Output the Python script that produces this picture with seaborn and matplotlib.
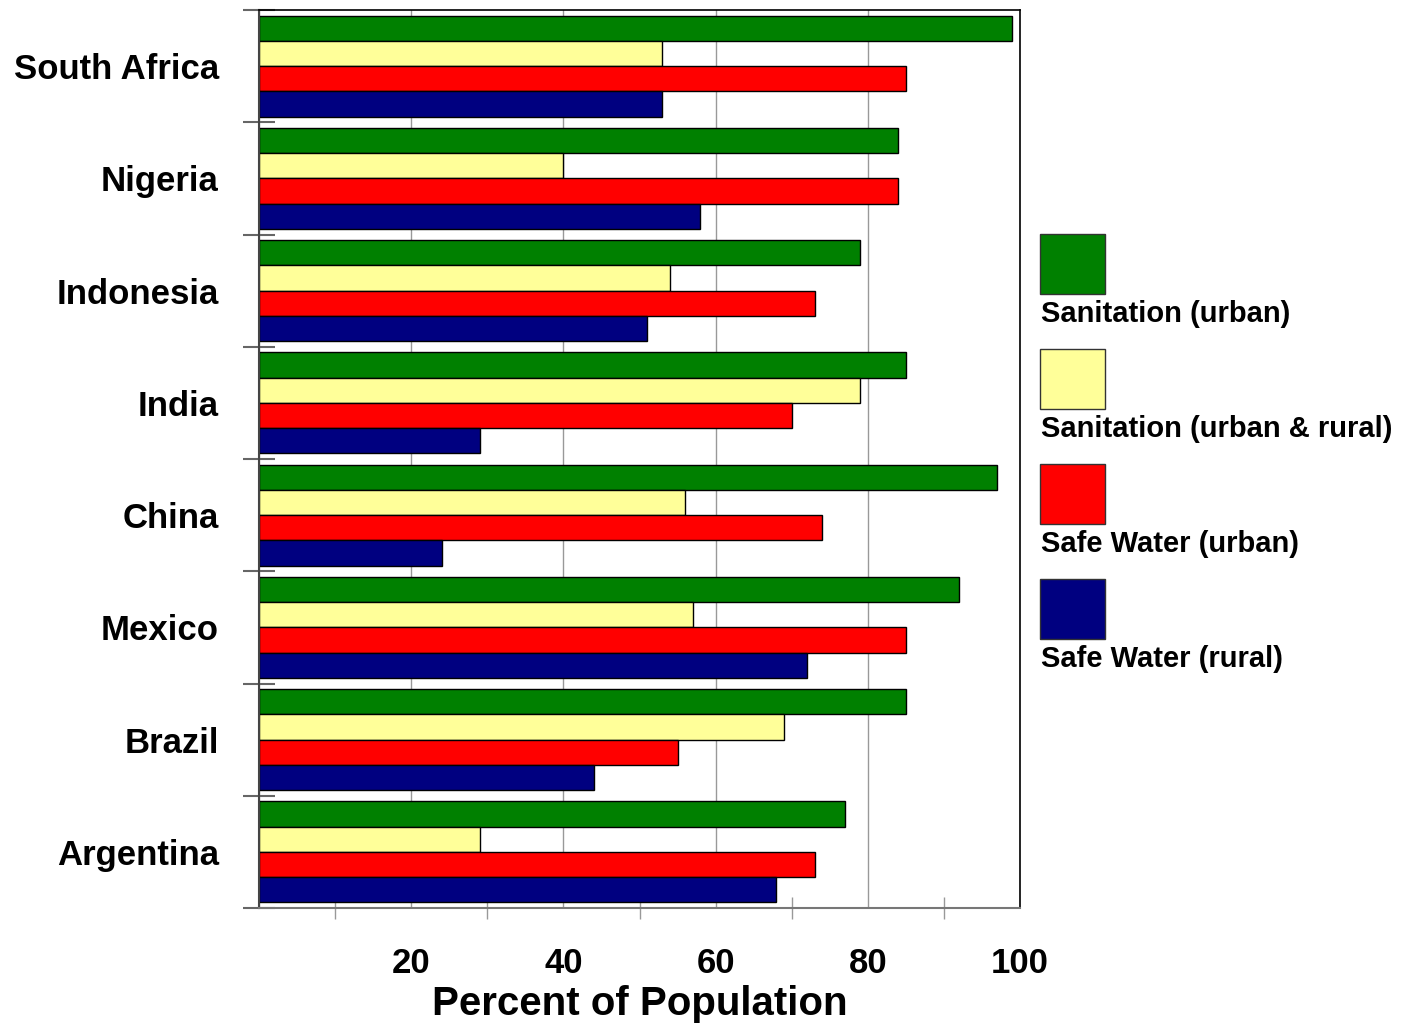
import pandas as pd
import matplotlib.pyplot as plt
import seaborn as sns
from matplotlib.patches import Rectangle
from matplotlib.ticker import MultipleLocator, FixedLocator

countries = ["South Africa", "Nigeria", "Indonesia", "India", "China", "Mexico", "Brazil", "Argentina"]
series = ["Sanitation (urban)", "Sanitation (urban & rural)", "Safe Water (urban)", "Safe Water (rural)"]
colors = ["#008000", "#FFFF99", "#FF0000", "#000080"]

san_urban = [99, 84, 79, 85, 97, 92, 85, 77]
san_all = [53, 40, 54, 79, 56, 57, 69, 29]
water_urban = [85, 84, 73, 70, 74, 85, 55, 73]
water_rural = [53, 58, 51, 29, 24, 72, 44, 68]

df = pd.DataFrame({"country": countries,
                   series[0]: san_urban, series[1]: san_all,
                   series[2]: water_urban, series[3]: water_rural})
df = df.melt(id_vars="country", var_name="series", value_name="pct")

sns.set_style("white")
plt.rcParams["font.family"] = ["Liberation Sans", "DejaVu Sans"]
plt.rcParams["font.weight"] = "bold"
plt.rcParams["text.color"] = "black"
plt.rcParams["axes.labelcolor"] = "black"
plt.rcParams["xtick.labelcolor"] = "black"
plt.rcParams["ytick.labelcolor"] = "black"

fig = plt.figure(figsize=(14.01, 10.25), dpi=100)
ax = fig.add_axes([259 / 1401, 1 - 908 / 1025, (1020 - 259) / 1401, (908 - 10) / 1025])

sns.barplot(data=df, y="country", x="pct", hue="series", order=countries,
            hue_order=series, palette=colors, saturation=1, orient="h", width=0.9,
            edgecolor="black", linewidth=1, legend=False, ax=ax)

ax.set_xlim(0, 100)
ax.set_ylim(len(countries) - 0.5, -0.5)
ax.set_xticks([0, 20, 40, 60, 80, 100])
ax.set_xticklabels(["", "20", "40", "60", "80", "100"])
ax.xaxis.set_minor_locator(FixedLocator([10, 30, 50, 70, 90]))
ax.tick_params(axis="x", which="major", direction="inout", length=24, width=1,
               color="#999999", labelsize=25, pad=16, labelcolor="black")
ax.tick_params(axis="x", which="minor", direction="inout", length=16, width=1,
               color="#999999", bottom=True)

ax.yaxis.set_minor_locator(FixedLocator([i - 0.5 for i in range(len(countries) + 1)]))
ax.tick_params(axis="y", which="major", length=0, labelsize=25, pad=29, labelcolor="black")
ax.tick_params(axis="y", which="minor", direction="inout", length=23, width=1.5,
               color="#666666", left=True)
for lbl in ax.get_yticklabels() + ax.get_xticklabels():
    lbl.set_fontweight("bold")

ax.grid(axis="x", which="major", color="#999999", linewidth=1)
ax.set_axisbelow(True)
ax.set_ylabel("")
ax.set_xlabel("Percent of Population", fontsize=29, fontweight="bold", labelpad=4)

for side in ["top", "right"]:
    ax.spines[side].set_visible(True)
    ax.spines[side].set_color("black")
    ax.spines[side].set_linewidth(1.2)
ax.spines["left"].set_color("#444444")
ax.spines["left"].set_linewidth(1.5)
ax.spines["bottom"].set_color("#777777")
ax.spines["bottom"].set_linewidth(1.5)

# legend: swatch above each label
W, H = 1401, 1025
for i, (name, c) in enumerate(zip(series, colors)):
    top = 234 + i * 115
    fig.add_artist(Rectangle((1040 / W, 1 - (top + 60) / H), 65 / W, 60 / H,
                             transform=fig.transFigure, facecolor=c,
                             edgecolor="#333333", linewidth=1))
    fig.text(1041 / W, 1 - (top + 88) / H, name, fontsize=21, fontweight="bold",
             va="baseline", ha="left", color="black")

fig.savefig("out.png", dpi=100)
